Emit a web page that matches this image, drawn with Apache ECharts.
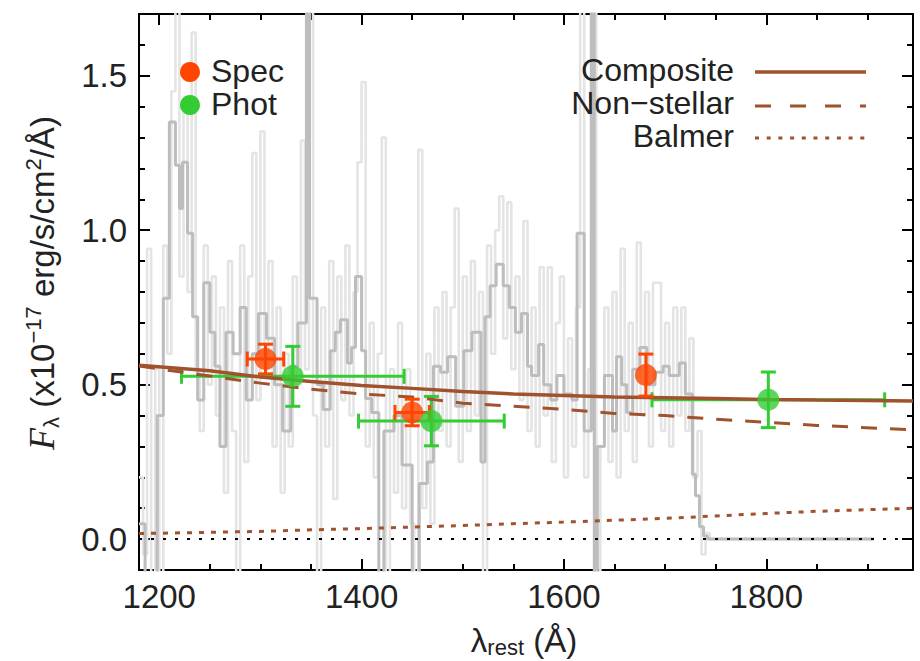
<!DOCTYPE html>
<html>
<head>
<meta charset="utf-8">
<script src="https://cdn.jsdelivr.net/npm/echarts@6/dist/echarts.min.js"></script>
<style>
html,body{margin:0;padding:0;background:#fff;}
#chart{width:920px;height:661px;}
</style>
</head>
<body>
<div id="chart"></div>
<script>
// ---------- DATA ----------
// Binned (dark grey) spectrum: bin start wavelengths and flux
const darkWave = [1180,1186,1193,1198,1204,1210,1216,1220,1223,1228,1233,1238,1244,1250,1255,1260,1266,1273,1280,1286,1292,1298,1306,1314,1322,1330,1337,1345.5,1348.5,1356,1362,1369,1374,1379,1386,1390,1394,1400,1404,1410,1417,1422,1432,1440,1450,1457,1465,1471,1478,1485,1493,1501,1509,1518,1522,1527,1533,1540,1546,1552,1558,1564,1568,1575,1580,1587,1593,1600,1608,1613,1620,1627,1630,1633,1640,1648,1652,1657,1662,1668,1675,1682,1690,1698,1704,1714,1720,1727,1730,1734,1738,1742,1906];
const darkFlux = [0.05,-0.15,-0.2,0.40,0.78,1.35,1.21,1.07,1.22,0.99,0.72,0.45,0.83,0.67,0.56,0.30,0.67,0.60,0.75,0.45,0.60,0.73,0.65,0.50,0.35,0.56,0.70,2.5,0.78,0.50,0.42,0.61,0.67,0.71,0.57,0.62,0.85,0.61,0.455,0.41,-0.3,0.35,0.40,0.24,-0.3,0.18,0.25,0.56,0.54,0.59,0.43,0.61,0.67,0.25,0.72,0.82,0.89,0.82,0.75,0.67,0.73,0.56,0.53,0.63,0.50,0.45,0.53,0.47,0.45,0.99,0.35,3.0,-0.5,0.30,0.53,0.35,0.59,0.50,0.41,0.55,0.62,0.50,0.54,0.56,0.53,0.57,0.47,0.21,0.14,0.04,0.01,0.0,0.0];

// Unbinned (light grey) spectrum
const lightWave = [1180,1184,1188,1192,1196,1200,1204,1208,1212,1216,
1220,1224,1228,1232,1236,1240,1244,1248,1252,1256,
1260,1264,1268,1272,1276,1280,1284,1288,1292,1296,
1300,1304,1308,1312,1316,1320,1324,1328,1332,1336,
1340,1344,1348,1352,1356,1360,1364,1368,1372,1376,
1380,1384,1388,1392,1396,1400,1404,1408,1412,1416,
1420,1424,1428,1432,1436,1440,1444,1448,1452,1456,
1460,1464,1468,1472,1476,1480,1484,1488,1492,1496,
1500,1504,1508,1512,1516,1520,1524,1528,1532,1536,
1540,1544,1548,1552,1556,1560,1564,1568,1572,1576,
1580,1584,1588,1592,1596,1600,1604,1608,1612,1616,
1620,1624,1628,1632,1636,1640,1644,1648,1652,1656,
1660,1664,1668,1672,1676,1680,1684,1688,1692,1696,
1700,1704,1708,1712,1716,1720,1724,1728,1732,1736,
1740,1744,1906];
const lightFlux = [0.20,-0.05,0.94,-0.3,0.55,-0.2,0.95,0.60,1.45,2.2,
0.85,1.40,0.80,1.64,0.55,0.35,0.95,0.50,0.85,0.40,
0.75,0.15,0.90,0.35,-0.2,0.95,0.25,0.85,1.25,0.45,
1.32,0.55,0.90,0.30,0.75,0.15,0.60,0.30,0.85,0.50,
1.29,0.55,2.5,0.40,-0.2,0.75,0.30,0.90,0.13,0.85,
0.45,0.95,0.40,0.80,1.22,1.48,0.30,0.70,0.20,0.60,
1.30,-0.2,0.55,0.15,0.70,0.10,0.55,0.05,-0.3,1.26,
0.10,0.60,0.05,0.75,0.35,0.80,0.30,0.75,1.07,0.25,
0.85,0.35,0.90,0.40,0.80,-0.2,0.95,0.60,1.00,1.11,
0.65,1.09,0.55,0.85,0.45,1.03,0.35,0.75,0.30,0.88,
0.40,0.88,0.25,0.70,0.85,0.20,0.65,0.30,0.75,2.2,
0.20,0.55,2.5,-0.5,0.30,0.75,0.25,0.80,0.20,0.94,
0.35,0.70,0.25,0.96,0.40,0.80,0.30,0.83,0.83,0.35,
0.70,0.30,0.75,0.40,0.75,0.35,0.65,0.20,0.35,-0.05,
0.02,0.0,0.0];

// Model components
const modelWave  = [1180,1250,1300,1350,1400,1450,1500,1550,1600,1650,1700,1750,1800,1850,1945];
const composite  = [0.563,0.545,0.525,0.510,0.497,0.488,0.478,0.470,0.465,0.460,0.458,0.455,0.452,0.450,0.447];
const nonStellar = [0.560,0.528,0.505,0.485,0.470,0.460,0.440,0.430,0.420,0.407,0.400,0.388,0.378,0.368,0.354];
const balmer     = [0.018,0.022,0.025,0.030,0.034,0.039,0.044,0.050,0.055,0.061,0.067,0.075,0.083,0.090,0.100];
const zeroWave = [1180,1930];
const zeroFlux = [0,0];

// Measurements
const specX    = [1305,1450,1681];
const specY    = [0.583,0.410,0.531];
const specXErr = [18,17,0];
const specYErr = [0.048,0.043,0.068];
const photX    = [1332,1469,1802];
const photY    = [0.527,0.382,0.451];
const photXErr = [110,72,115];
const photYErr = [0.097,0.080,0.090];

// Ticks
const xMajorTicks = [1200,1400,1600,1800];
const xMinorTicks = [1200,1250,1300,1350,1400,1450,1500,1550,1600,1650,1700,1750,1800,1850,1900];
const yMajorTicks = [0,0.5,1.0,1.5];
const yMinorTicks = [0.1,0.2,0.3,0.4,0.6,0.7,0.8,0.9,1.1,1.2,1.3,1.4,1.6];

// ---------- CHART ----------
const FONT = 'Liberation Sans, Arial, Helvetica, sans-serif';
const BROWN = '#a0522d';
const SPEC_C = '#ff4500';
const PHOT_C = '#33cc33';
const zip = (a,b) => a.map((v,i)=>[v,b[i]]);

const chart = echarts.init(document.getElementById('chart'), null, {renderer:'svg'});

function xAxisDef(pos, ticks, len, showLine, showLabel){
  return {
    type:'value', position:pos, min:1180, max:1945,
    axisLine:{show:showLine, onZero:false, lineStyle:{color:'#000', width:2}},
    axisTick:{show:true, inside:true, length:len, customValues:ticks, lineStyle:{color:'#000', width:2}},
    axisLabel:{show:showLabel, customValues:ticks, formatter:v=>String(v), fontSize:33, fontFamily:FONT, color:'#222', margin:10},
    splitLine:{show:false}
  };
}
function yAxisDef(pos, ticks, len, showLine, showLabel){
  return {
    type:'value', position:pos, min:-0.1, max:1.7,
    axisLine:{show:showLine, onZero:false, lineStyle:{color:'#000', width:2}},
    axisTick:{show:true, inside:true, length:len, customValues:ticks, lineStyle:{color:'#000', width:2}},
    axisLabel:{show:showLabel, customValues:ticks, formatter:v=>Number(v).toFixed(1), fontSize:33, fontFamily:FONT, color:'#222', margin:12},
    splitLine:{show:false}
  };
}

function errRender(color){
  return function(params, api){
    const x = api.value(0), y = api.value(1), xe = api.value(2), ye = api.value(3);
    const cap = 7.5;
    const children = [];
    const st = {stroke:color, lineWidth:3};
    if (xe > 0){
      const l = api.coord([x-xe, y]), r = api.coord([x+xe, y]);
      children.push({type:'line', shape:{x1:l[0],y1:l[1],x2:r[0],y2:r[1]}, style:st});
      children.push({type:'line', shape:{x1:l[0],y1:l[1]-cap,x2:l[0],y2:l[1]+cap}, style:st});
      children.push({type:'line', shape:{x1:r[0],y1:r[1]-cap,x2:r[0],y2:r[1]+cap}, style:st});
    }
    if (ye > 0){
      const t = api.coord([x, y+ye]), b = api.coord([x, y-ye]);
      children.push({type:'line', shape:{x1:t[0],y1:t[1],x2:b[0],y2:b[1]}, style:st});
      children.push({type:'line', shape:{x1:t[0]-cap,y1:t[1],x2:t[0]+cap,y2:t[1]}, style:st});
      children.push({type:'line', shape:{x1:b[0]-cap,y1:b[1],x2:b[0]+cap,y2:b[1]}, style:st});
    }
    return {type:'group', children};
  };
}

const option = {
  backgroundColor:'#fff',
  animation:false,
  grid:{left:139, right:7, top:14, bottom:91, containLabel:false},
  xAxis:[
    xAxisDef('bottom', xMajorTicks, 11, true, true),
    xAxisDef('bottom', xMinorTicks, 6, false, false),
    xAxisDef('top', xMajorTicks, 11, true, false),
    xAxisDef('top', xMinorTicks, 6, false, false)
  ],
  yAxis:[
    yAxisDef('left', yMajorTicks, 11, true, true),
    yAxisDef('left', yMinorTicks, 6, false, false),
    yAxisDef('right', yMajorTicks, 11, true, false),
    yAxisDef('right', yMinorTicks, 6, false, false)
  ],
  series:[
    {type:'line', name:'spec-raw', data:zip(lightWave, lightFlux), step:'end', showSymbol:false, silent:true, z:1,
     lineStyle:{color:'#e4e4e4', width:2.6}},
    {type:'line', name:'spec-bin', data:zip(darkWave, darkFlux), step:'end', showSymbol:false, silent:true, z:2,
     lineStyle:{color:'#bdbdbd', width:3}},
    {type:'line', name:'Balmer', data:zip(modelWave, balmer), showSymbol:false, silent:true, z:3,
     lineStyle:{color:BROWN, width:3, type:[5,7]}},
    {type:'line', name:'zero', data:zip(zeroWave, zeroFlux), showSymbol:false, silent:true, z:3,
     lineStyle:{color:'#000', width:2, type:[3,9]}},
    {type:'custom', name:'photErr', renderItem:errRender(PHOT_C), z:4, silent:true,
     data:photX.map((v,i)=>[v, photY[i], photXErr[i], photYErr[i]])},
    {type:'line', name:'Non-stellar', data:zip(modelWave, nonStellar), showSymbol:false, silent:true, z:5,
     lineStyle:{color:BROWN, width:3, type:[16,13]}},
    {type:'line', name:'Composite', data:zip(modelWave, composite), showSymbol:false, silent:true, z:5,
     lineStyle:{color:BROWN, width:3.5}},
    {type:'custom', name:'specErr', renderItem:errRender(SPEC_C), z:6, silent:true,
     data:specX.map((v,i)=>[v, specY[i], specXErr[i], specYErr[i]])},
    {type:'scatter', name:'Spec', data:zip(specX, specY), symbol:'circle', symbolSize:22, z:7,
     itemStyle:{color:SPEC_C}},
    {type:'scatter', name:'Phot', data:zip(photX, photY), symbol:'circle', symbolSize:22, z:7,
     itemStyle:{color:PHOT_C}}
  ],
  graphic:[
    {type:'circle', shape:{cx:190, cy:72, r:10}, style:{fill:SPEC_C}, z:100},
    {type:'circle', shape:{cx:190, cy:105, r:10}, style:{fill:PHOT_C}, z:100},
    {type:'text', x:211, y:71, style:{text:'Spec', font:'32px '+FONT, fill:'#222', align:'left', verticalAlign:'middle'}, z:100},
    {type:'text', x:211, y:104, style:{text:'Phot', font:'32px '+FONT, fill:'#222', align:'left', verticalAlign:'middle'}, z:100},
    {type:'text', x:734, y:70, style:{text:'Composite', font:'32px '+FONT, fill:'#222', align:'right', verticalAlign:'middle'}, z:100},
    {type:'text', x:734, y:103, style:{text:'Non\u2212stellar', font:'32px '+FONT, fill:'#222', align:'right', verticalAlign:'middle'}, z:100},
    {type:'text', x:734, y:136, style:{text:'Balmer', font:'32px '+FONT, fill:'#222', align:'right', verticalAlign:'middle'}, z:100},
    {type:'line', shape:{x1:755, y1:72, x2:866, y2:72}, style:{stroke:BROWN, lineWidth:3.5}, z:100},
    {type:'line', shape:{x1:755, y1:106, x2:866, y2:106}, style:{stroke:BROWN, lineWidth:3, lineDash:[16,19]}, z:100},
    {type:'line', shape:{x1:755, y1:138, x2:866, y2:138}, style:{stroke:BROWN, lineWidth:3, lineDash:[4,7.7]}, z:100},
    {type:'text', x:42, y:283, rotation:Math.PI/2,
     style:{
       text:'{F|F}{sub|\u03bb}{n| (x10}{sup|\u221217}{n| erg/s/cm}{sup|2}{n|/\u00c5)}',
       align:'center', verticalAlign:'middle', fill:'#222',
       rich:{
         F:{font:'italic 36px Liberation Serif, Times New Roman, serif', fill:'#222', verticalAlign:'middle', lineHeight:40},
         sub:{font:'22px '+FONT, fill:'#222', verticalAlign:'bottom', lineHeight:40},
         n:{font:'33px '+FONT, fill:'#222', verticalAlign:'middle', lineHeight:40},
         sup:{font:'22px '+FONT, fill:'#222', verticalAlign:'top', lineHeight:40}
       }
     }, z:100},
    {type:'text', x:524, y:640,
     style:{
       text:'{l|\u03bb}{s|rest}{n| (\u00c5)}',
       align:'center', verticalAlign:'middle', fill:'#222',
       rich:{
         l:{font:'33px '+FONT, fill:'#222', verticalAlign:'middle', lineHeight:36},
         s:{font:'22px '+FONT, fill:'#222', verticalAlign:'bottom', lineHeight:36},
         n:{font:'33px '+FONT, fill:'#222', verticalAlign:'middle', lineHeight:36}
       }
     }, z:100}
  ]
};
chart.setOption(option);
</script>
</body>
</html>
